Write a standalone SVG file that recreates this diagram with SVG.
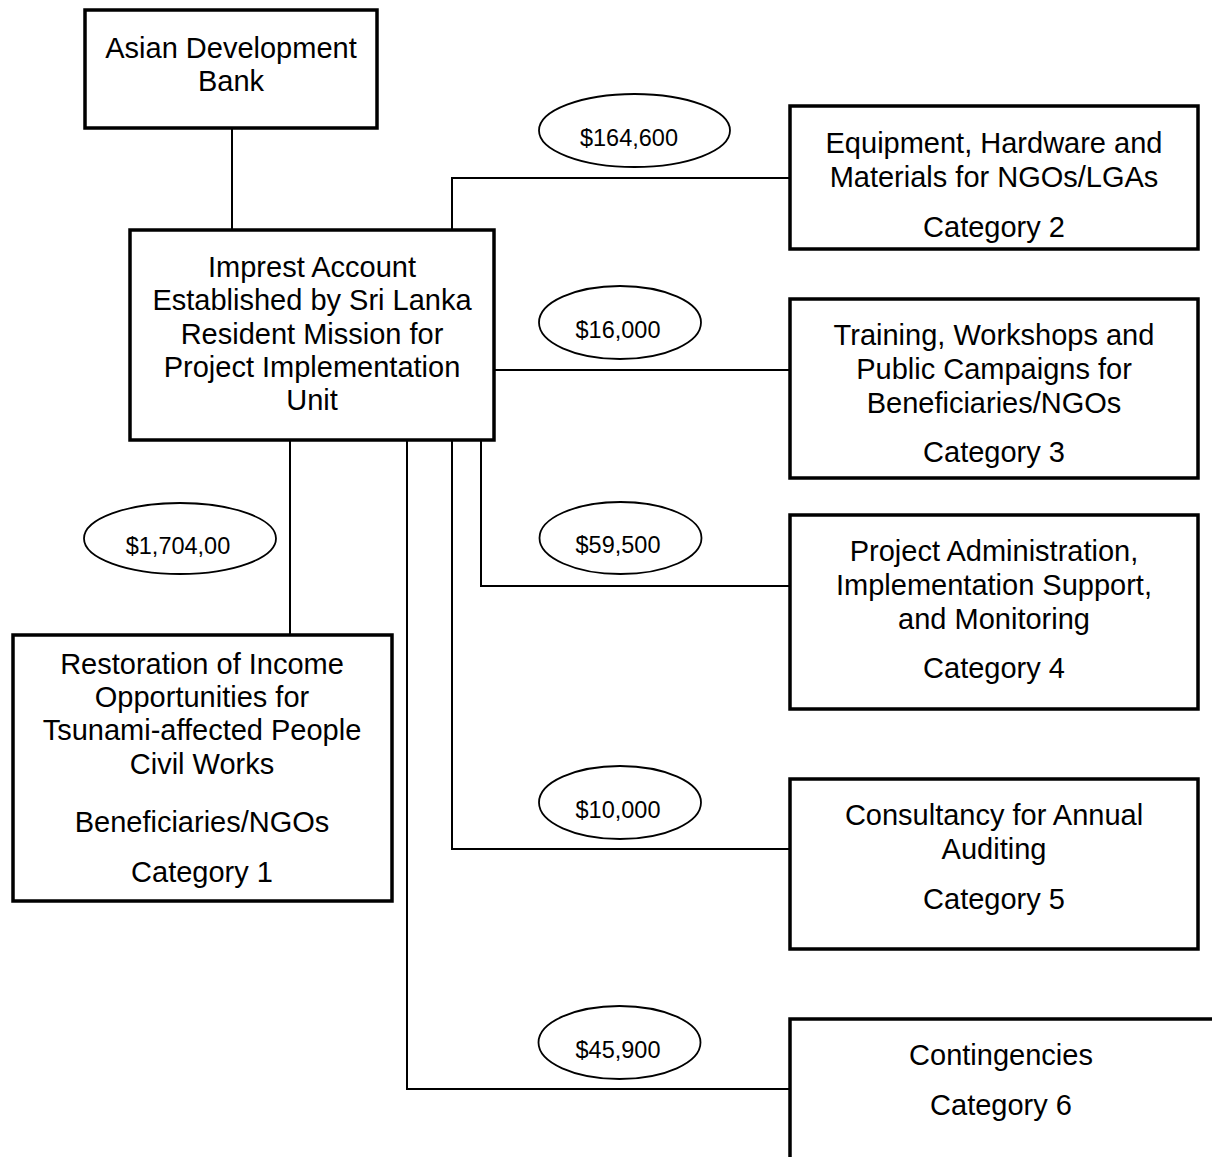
<svg xmlns="http://www.w3.org/2000/svg" width="1212" height="1157" viewBox="0 0 1212 1157">
<style>
.box{fill:#fff;stroke:#000;stroke-width:3.5}
.conn{fill:none;stroke:#000;stroke-width:2}
.oval{fill:#fff;stroke:#000;stroke-width:1.8}
.t{font-family:"Liberation Sans",Arial,sans-serif;font-size:29px;fill:#000;text-anchor:middle}
.amt{font-family:"Liberation Sans",Arial,sans-serif;font-size:23.5px;fill:#000;text-anchor:middle}
</style>
<rect width="1212" height="1157" fill="#fff"/>
<g id="connectors">
<path class="conn" d="M232 128V229"/>
<path class="conn" d="M452 229V178H789"/>
<path class="conn" d="M495 370H789"/>
<path class="conn" d="M481 441V586H789"/>
<path class="conn" d="M452 441V849H789"/>
<path class="conn" d="M407 441V1089H789"/>
<path class="conn" d="M290 441V634"/>
</g>
<g id="adb">
<rect class="box" x="85" y="10" width="292" height="118"/>
<text class="t" x="231" y="58">Asian Development</text>
<text class="t" x="231" y="91">Bank</text>
</g>
<g id="impress">
<rect class="box" x="130" y="230" width="364" height="210"/>
<text class="t" x="312" y="277">Imprest Account</text>
<text class="t" x="312" y="310">Established by Sri Lanka</text>
<text class="t" x="312" y="344">Resident Mission for</text>
<text class="t" x="312" y="377">Project Implementation</text>
<text class="t" x="312" y="410">Unit</text>
</g>
<g id="cat2">
<rect class="box" x="790" y="106" width="408" height="143"/>
<text class="t" x="994" y="153">Equipment, Hardware and</text>
<text class="t" x="994" y="187">Materials for NGOs/LGAs</text>
<text class="t" x="994" y="237">Category 2</text>
</g>
<g id="cat3">
<rect class="box" x="790" y="299" width="408" height="179"/>
<text class="t" x="994" y="345">Training, Workshops and</text>
<text class="t" x="994" y="379">Public Campaigns for</text>
<text class="t" x="994" y="413">Beneficiaries/NGOs</text>
<text class="t" x="994" y="462">Category 3</text>
</g>
<g id="cat4">
<rect class="box" x="790" y="515" width="408" height="194"/>
<text class="t" x="994" y="561">Project Administration,</text>
<text class="t" x="994" y="595">Implementation Support,</text>
<text class="t" x="994" y="629">and Monitoring</text>
<text class="t" x="994" y="678">Category 4</text>
</g>
<g id="cat5">
<rect class="box" x="790" y="779" width="408" height="170"/>
<text class="t" x="994" y="825">Consultancy for Annual</text>
<text class="t" x="994" y="859">Auditing</text>
<text class="t" x="994" y="909">Category 5</text>
</g>
<g id="cat6">
<rect class="box" x="790" y="1019" width="500" height="300"/>
<text class="t" x="1001" y="1065">Contingencies</text>
<text class="t" x="1001" y="1115">Category 6</text>
</g>
<g id="cat1">
<rect class="box" x="13" y="635" width="379" height="266"/>
<text class="t" x="202" y="674">Restoration of Income</text>
<text class="t" x="202" y="707">Opportunities for</text>
<text class="t" x="202" y="740">Tsunami-affected People</text>
<text class="t" x="202" y="774">Civil Works</text>
<text class="t" x="202" y="832">Beneficiaries/NGOs</text>
<text class="t" x="202" y="882">Category 1</text>
</g>
<g id="amt-cat2">
<ellipse class="oval" cx="634.5" cy="130.5" rx="95.5" ry="36.5"/>
<text class="amt" x="629" y="146">$164,600</text>
</g>
<g id="amt-cat3">
<ellipse class="oval" cx="620" cy="322.5" rx="81" ry="36.5"/>
<text class="amt" x="618" y="338">$16,000</text>
</g>
<g id="amt-cat4">
<ellipse class="oval" cx="620.5" cy="538" rx="81" ry="36"/>
<text class="amt" x="618" y="553">$59,500</text>
</g>
<g id="amt-cat5">
<ellipse class="oval" cx="620" cy="802.5" rx="81" ry="36.5"/>
<text class="amt" x="618" y="818">$10,000</text>
</g>
<g id="amt-cat6">
<ellipse class="oval" cx="619.5" cy="1042.5" rx="81" ry="36.5"/>
<text class="amt" x="618" y="1058">$45,900</text>
</g>
<g id="amt-cat1">
<ellipse class="oval" cx="180" cy="538.5" rx="96" ry="35.5"/>
<text class="amt" x="178" y="554">$1,704,00</text>
</g>
</svg>
